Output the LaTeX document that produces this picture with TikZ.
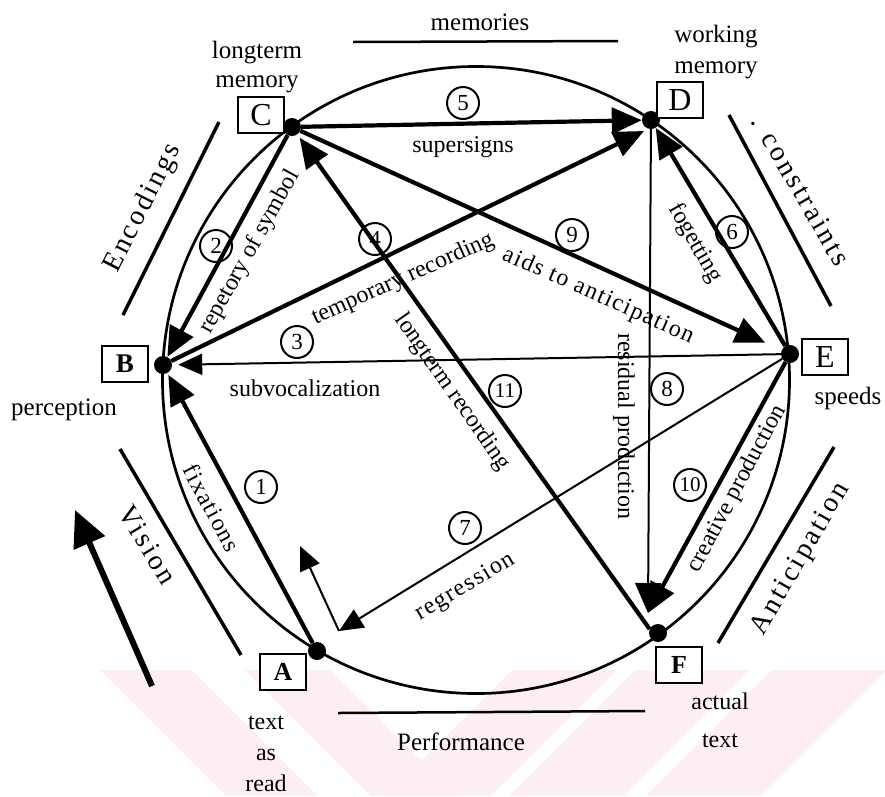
\documentclass[tikz,border=0pt]{standalone}
\usepackage{fontspec}
\setmainfont{Liberation Serif}
\newfontfamily\widefont[LetterSpace=10]{Liberation Serif}
\newfontfamily\loosefont[LetterSpace=6]{Liberation Serif}
\usetikzlibrary{arrows.meta}
\definecolor{wmpink}{RGB}{253,238,241}

\begin{document}
\begin{tikzpicture}[x=1pt,y=-1pt,
  every node/.style={font=\fontsize{24}{28}\selectfont, inner sep=0pt},
  hub/.style={circle, fill=black, minimum size=18pt},
  letterbox/.style={draw, line width=2.4pt, minimum width=46pt, minimum height=36pt, fill=white},
  num/.style={circle, draw, line width=2pt, minimum size=32pt, font=\fontsize{23}{23}\selectfont},
  heavy/.style={line width=4.2pt},
  light/.style={line width=2pt},
  bighead/.style={-{Triangle[length=30pt,width=26pt]}},
  smallhead/.style={-{Triangle[length=24pt,width=21pt]}},
  side/.style={line width=3.5pt},
  sidetext/.style={font=\widefont\fontsize{28}{30}\selectfont},
  corner/.style={align=center, font=\fontsize{25}{29}\selectfont}]

\useasboundingbox (0,0) rectangle (885,796);

% faint diagonal bands along the bottom edge
\begin{scope}
  \clip (0,670) rectangle (885,796);
  \foreach \a/\w in {100/92, 245/86}
    \fill[wmpink] (\a,670) -- ++(\w,0) -- ++(126,126) -- ++(-\w,0) -- cycle;
  \foreach \b/\w in {512/105, 635/115, 772/115}
    \fill[wmpink] (\b,670) -- ++(\w,0) -- ++(-126,126) -- ++(-\w,0) -- cycle;
\end{scope}

% the cycle
\draw[line width=2.7pt] (476,380) circle[radius=313.5pt];

% stations on the cycle
\node[hub] (C) at (292,127) {};
\node[hub] (D) at (651,120) {};
\node[hub] (E) at (790,354) {};
\node[hub] (F) at (658,633) {};
\node[hub] (A) at (317,651) {};
\node[hub] (B) at (163,365) {};

\coordinate (Ftip) at (648,613);
\coordinate (Dlow) at (644,131);
\coordinate (Rback) at (339,631);
\coordinate (Rup) at (300,546);

% letter boxes
\node[letterbox, font=\fontsize{32}{32}\selectfont] (Cb) at (261,115) {C};
\node[letterbox, font=\fontsize{32}{32}\selectfont] (Db) at (680,100) {D};
\node[letterbox, font=\fontsize{32}{32}\selectfont] (Eb) at (825,357) {E};
\node[letterbox, font=\bfseries\fontsize{27}{27}\selectfont] (Bb) at (125,364) {B};
\node[letterbox, font=\bfseries\fontsize{26}{26}\selectfont] (Ab) at (283,672) {A};
\node[letterbox, font=\bfseries\fontsize{26}{26}\selectfont] (Fb) at (679,665) {F};

% station captions
\node[corner] (Ct) at (257,67) {longterm\\memory};
\node[corner, font=\fontsize{25}{31}\selectfont] (Dt) at (716,52) {working\\memory};
\node[corner] (Bt) at (64,410) {perception};
\node[corner] (Et) at (848,398) {speeds};
\node[corner, font=\fontsize{24}{31}\selectfont] (At) at (266,754) {text\\as\\read};
\node[corner, font=\fontsize{24}{38}\selectfont] (Ft) at (720,720) {actual\\text};

% group labels with their bars
\node[corner] (mem) at (480,22) {memories};
\draw[side, line width=2.5pt] (353,42) -- (618,41);
\node[corner] (perf) at (461,742) {Performance};
\draw[side, line width=2.5pt] (338,713) -- (645,711);

\draw[side] (219,122) -- (123,315);
\node[sidetext, rotate=63] (enc) at (143,208) {Encodings};
\draw[side] (729,115) -- (831,306);
\node[sidetext, rotate=-60] (con) at (801,190) {. constraints};
\draw[side] (120,449) -- (241,655);
\node[sidetext, rotate=-59] (vis) at (148,545) {Vision};
\draw[side] (834,447) -- (718,643);
\node[sidetext, rotate=60] (ant) at (801,559) {Anticipation};

% reading direction
\draw[line width=6pt, -{Triangle[length=36pt,width=33pt]}] (152,686) -- (75,510);

% transitions
\draw[heavy, bighead, shorten >=2pt] (A) -- (B);
\draw[heavy, bighead] (C) -- (B);
\draw[light, smallhead, shorten >=6pt] (E) -- (B);
\draw[heavy, bighead, shorten >=4pt] (F.155) -- (C);
\draw[heavy, bighead] (C) -- (D);
\draw[heavy, bighead] (E) -- (D);
\draw[light, smallhead] (E) -- (Rback);
\draw[light, smallhead] (Rback) -- (Rup);
\draw[light, -{Triangle[length=30pt,width=26pt]}] (D) -- (Ftip);
\draw[heavy, bighead, shorten >=18pt] (C) -- (E);
\draw[heavy, bighead] (E) -- (Ftip);
\draw[heavy, bighead] (B) -- (Dlow);

% transition labels
\node[font=\loosefont\fontsize{24}{28}\selectfont, rotate=-62] (l1) at (212,508) {fixations};
\node[rotate=61] (l2) at (250,252) {repetory of symbol};
\node (l3) at (305,388) {subvocalization};
\node[rotate=24] (l4) at (403,279) {temporary recording};
\node[rotate=-55] (l11) at (452,392) {longterm recording};
\node (l5) at (463,147) {supersigns};
\node[rotate=-60] (l6) at (695,243) {fogetting};
\node[font=\loosefont\fontsize{24}{28}\selectfont, rotate=31] (l7) at (465,587) {regression};
\node[rotate=-90] (l8) at (624,426) {residual production};
\node[font=\loosefont\fontsize{24}{28}\selectfont, rotate=-24] (l9) at (598,296) {aids to anticipation};
\node[rotate=62] (l10) at (737,489) {creative production};

% step numbers
\node[num] (n1) at (261,487) {1};
\node[num] (n2) at (216,246) {2};
\node[num] (n3) at (297,342) {3};
\node[num] (n4) at (375,239) {4};
\node[num] (n5) at (463,103) {5};
\node[num] (n6) at (732,232) {6};
\node[num] (n7) at (465,528) {7};
\node[num] (n8) at (667,389) {8};
\node[num] (n9) at (572,235) {9};
\node[num, font=\fontsize{21}{21}\selectfont] (n10) at (690,485) {10};
\node[num, font=\fontsize{21}{21}\selectfont] (n11) at (505,391) {11};

\end{tikzpicture}
\end{document}
